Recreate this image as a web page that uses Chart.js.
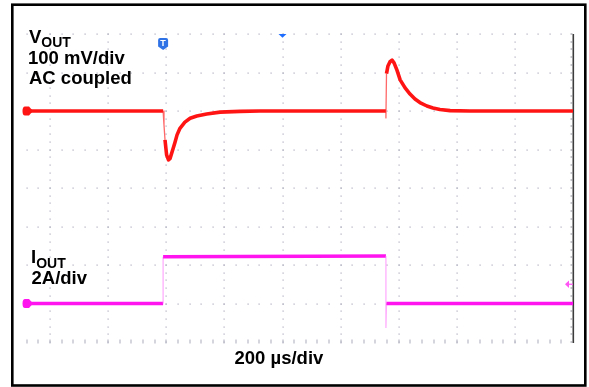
<!DOCTYPE html>
<html><head><meta charset="utf-8">
<script src="https://cdn.jsdelivr.net/npm/chart.js@4/dist/chart.umd.min.js"></script>
<style>
html,body{margin:0;padding:0;background:#fff;}
#wrap{position:relative;width:589px;height:387px;overflow:hidden;background:#fff;}
canvas{position:absolute;left:0;top:0;}
.lbl{position:absolute;font-family:'Liberation Sans',Arial,sans-serif;font-weight:bold;font-size:18.5px;line-height:18.5px;color:#000;white-space:nowrap;}
.sub{font-size:14px;position:relative;}
</style></head><body>
<div id="wrap">
<canvas id="c" width="589" height="387"></canvas>
<div class="lbl" style="left:29px;top:27.6px">V<span class="sub" style="top:4.4px">OUT</span></div>
<div class="lbl" style="left:28px;top:48.6px">100 mV/div</div>
<div class="lbl" style="left:29px;top:69.3px">AC coupled</div>
<div class="lbl" style="left:31px;top:247.7px">I<span class="sub" style="top:5.5px">OUT</span></div>
<div class="lbl" style="left:31.5px;top:268.7px">2A/div</div>
<div class="lbl" style="left:234.5px;top:348.6px">200 µs/div</div>
</div>
<script>
// ---- data (time in µs, VOUT in mV AC-coupled, IOUT in A) ----
const vTime = [117, 589, 592, 595.5, 601, 607.5, 613, 624, 630, 637, 647, 664, 682, 705, 739, 785, 854, 922,
               1356, 1356, 1358, 1363, 1370, 1377, 1384, 1394, 1405, 1422, 1439, 1456, 1473, 1497, 1518, 1542, 1577, 1645, 2000];
const vOut  = [0, 0, -36, -75, -114, -127, -123, -96, -81, -62, -45, -29, -19, -13, -8, -3, -1, 0,
               0, -18, 97, 117, 128, 132, 125, 106, 81, 60, 44, 31, 22, 13, 8, 4, 1, 0, 0];
const iTime = [117, 589, 589, 1356, 1356, 1358, 2000];
const iOut  = [0, 0, 2.43, 2.47, -1.27, 0, 0];

// ---- scope grid / settings ----
const timeRange = [117, 2000];          // visible window, µs
const timeGrid  = [200, 400, 600, 800, 1000, 1200, 1400, 1600, 1800];
const voltRange = [-600, 200];          // 100 mV/div, 8 div
const voltGrid  = [200, 100, 0, -100, -200, -300, -400, -500, -600];
const ampRange  = [-2, 14];             // 2 A/div, 8 div
const triggerTime = 589;
const centerTime = 1000;
const triggerLevelA = 1.0;

const RED = '#ff1414', MAG = '#ff14f0';

function steep(ctx){
  const a = ctx.p0, b = ctx.p1;
  return Math.abs(b.x - a.x) < 1.2 && Math.abs(b.y - a.y) > 5;
}

const scopePlugin = {
  id: 'scope',
  beforeDraw(chart){
    const ctx = chart.ctx;
    ctx.save();
    ctx.fillStyle = '#fff';
    ctx.fillRect(0, 0, chart.width, chart.height);
    ctx.strokeStyle = '#000';
    ctx.lineWidth = 2.6;
    ctx.strokeRect(12.3, 4.7, 573, 380.8);
    ctx.restore();
  },
  beforeDatasetsDraw(chart){
    const ctx = chart.ctx, x = chart.scales.x, yV = chart.scales.yV;
    const tStep = (timeGrid[1] - timeGrid[0]) / 5;
    const vStep = (voltGrid[0] - voltGrid[1]) / 5;
    ctx.save();
    ctx.fillStyle = '#acacbc';
    // vertical dotted lines
    timeGrid.forEach(t => {
      const px = Math.round(x.getPixelForValue(t)) - 0.5;
      for (let v = voltRange[1]; v >= voltRange[0]; v -= vStep) {
        const py = Math.round(yV.getPixelForValue(v)) - 0.5;
        ctx.fillRect(px, py, 1.2, 1.2);
      }
    });
    // horizontal dotted lines
    const t0 = Math.ceil(timeRange[0] / tStep) * tStep;
    voltGrid.forEach((v, k) => {
      const py = Math.round(yV.getPixelForValue(v)) - 0.5;
      for (let t = t0; t <= timeRange[1] - 1; t += tStep) {
        const px = Math.round(x.getPixelForValue(t)) - 0.5;
        if (k === voltGrid.length - 1) ctx.fillRect(px, py - 2, 1, 4);
        else ctx.fillRect(px, py, 1.2, 1.2);
      }
    });
    // right edge with ticks
    const rx = x.getPixelForValue(timeRange[1]);
    const top = yV.getPixelForValue(voltRange[1]), bot = yV.getPixelForValue(voltRange[0]);
    ctx.fillStyle = '#3c3c3c';
    ctx.fillRect(rx - 0.5, top, 1.6, bot - top + 1);
    ctx.fillStyle = '#8a8a96';
    for (let v = voltRange[1]; v >= voltRange[0]; v -= vStep) {
      const py = Math.round(yV.getPixelForValue(v)) - 0.5;
      ctx.fillRect(rx - 2.5, py, 2, 1);
    }
    ctx.restore();
  },
  afterDatasetsDraw(chart){
    const ctx = chart.ctx, x = chart.scales.x, yV = chart.scales.yV, yI = chart.scales.yI;
    ctx.save();
    // channel ground markers at left
    const lx = x.getPixelForValue(timeRange[0]);
    [[yV.getPixelForValue(0), RED], [yI.getPixelForValue(0), MAG]].forEach(([py, col]) => {
      ctx.fillStyle = col;
      ctx.beginPath();
      ctx.moveTo(lx - 1, py - 4.5);
      ctx.lineTo(lx + 3, py - 4.5);
      ctx.lineTo(lx + 7, py);
      ctx.lineTo(lx + 3, py + 4.5);
      ctx.lineTo(lx - 1, py + 4.5);
      ctx.quadraticCurveTo(lx - 3.5, py + 4.5, lx - 3.5, py);
      ctx.quadraticCurveTo(lx - 3.5, py - 4.5, lx - 1, py - 4.5);
      ctx.closePath();
      ctx.fill();
    });
    // trigger position marker "T"
    const tx = x.getPixelForValue(triggerTime);
    ctx.fillStyle = '#2f72e6';
    ctx.beginPath();
    ctx.moveTo(tx - 5, 40);
    ctx.quadraticCurveTo(tx - 5, 38, tx - 3, 38);
    ctx.lineTo(tx + 3, 38);
    ctx.quadraticCurveTo(tx + 5, 38, tx + 5, 40);
    ctx.lineTo(tx + 5, 46.5);
    ctx.lineTo(tx, 50);
    ctx.lineTo(tx - 5, 46.5);
    ctx.closePath();
    ctx.fill();
    ctx.fillStyle = '#fff';
    ctx.font = 'bold 9px "Liberation Sans", Arial, sans-serif';
    ctx.textAlign = 'center';
    ctx.textBaseline = 'middle';
    ctx.fillText('T', tx, 43.5);
    // center (horizontal position) marker
    const cx = x.getPixelForValue(centerTime);
    const ty = yV.getPixelForValue(voltRange[1]);
    ctx.fillStyle = '#1f6dff';
    ctx.beginPath();
    ctx.moveTo(cx - 4, ty);
    ctx.lineTo(cx + 4, ty);
    ctx.lineTo(cx, ty + 3.8);
    ctx.closePath();
    ctx.fill();
    // trigger level arrow (IOUT) at right
    const ay = yI.getPixelForValue(triggerLevelA);
    const rx = x.getPixelForValue(timeRange[1]);
    ctx.fillStyle = '#ff55f5';
    ctx.beginPath();
    ctx.moveTo(rx - 8, ay);
    ctx.lineTo(rx - 4, ay - 3.8);
    ctx.lineTo(rx - 4, ay + 3.8);
    ctx.closePath();
    ctx.fill();
    ctx.fillRect(rx - 5, ay - 0.6, 5, 1.2);
    ctx.restore();
  }
};

const toXY = (ts, vs) => ts.map((t, i) => ({x: t, y: vs[i]}));

new Chart(document.getElementById('c'), {
  type: 'line',
  data: {
    datasets: [
      {
        label: 'VOUT', data: toXY(vTime, vOut), yAxisID: 'yV',
        borderColor: RED, borderWidth: 3.6, pointRadius: 0, tension: 0,
        borderJoinStyle: 'round',
        segment: {
          borderWidth: c => steep(c) ? 1.3 : 3.6,
          borderColor: c => steep(c) ? 'rgba(255,40,40,0.7)' : RED
        }
      },
      {
        label: 'IOUT', data: toXY(iTime, iOut), yAxisID: 'yI',
        borderColor: MAG, borderWidth: 3.5, pointRadius: 0, tension: 0,
        segment: {
          borderWidth: c => steep(c) ? 1.3 : 3.5,
          borderColor: c => steep(c) ? 'rgba(255,120,250,0.6)' : MAG
        }
      }
    ]
  },
  options: {
    responsive: false, devicePixelRatio: 1, animation: false,
    parsing: false, normalized: true,
    layout: {padding: {left: 26, right: 16, top: 34, bottom: 45}},
    plugins: {legend: {display: false}, tooltip: {enabled: false}},
    scales: {
      x: {type: 'linear', display: false, min: timeRange[0], max: timeRange[1]},
      yV: {type: 'linear', display: false, min: voltRange[0], max: voltRange[1]},
      yI: {type: 'linear', display: false, min: ampRange[0], max: ampRange[1]}
    }
  },
  plugins: [scopePlugin]
});
</script>
</body></html>
